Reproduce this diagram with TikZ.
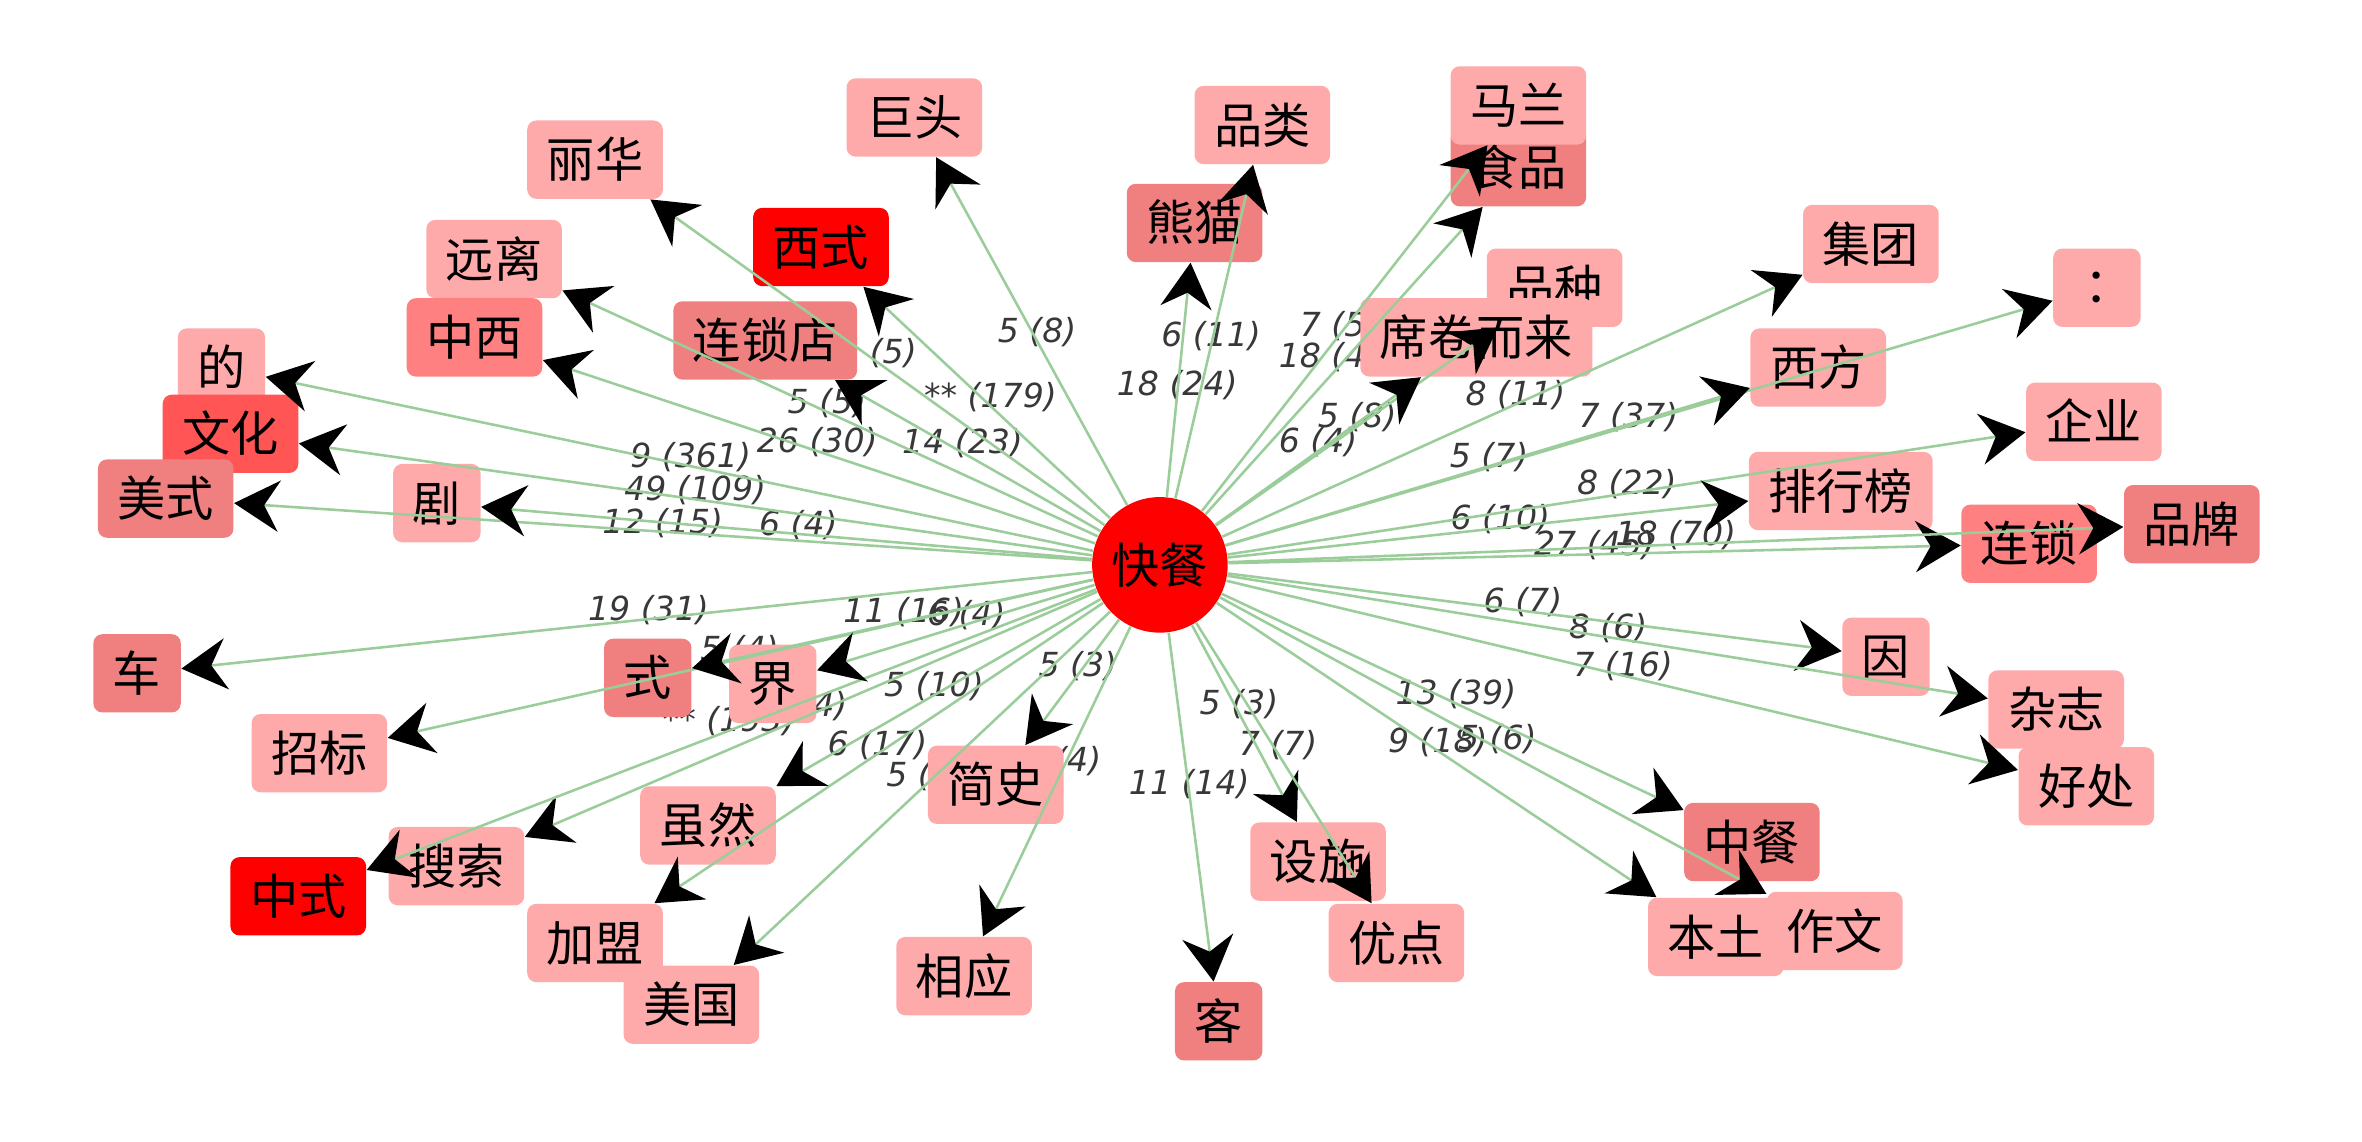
\documentclass[tikz,border=0pt]{standalone}
\usepackage{fontspec}
\setmainfont{DejaVu Sans}
\newfontfamily\cjk{Noto Sans CJK SC}
\newfontfamily\cjktc{Noto Sans CJK TC}
\usetikzlibrary{arrows.meta}
\pgfdeclarelayer{back}
\pgfsetlayers{back,main}
\definecolor{lightBox}{RGB}{255,170,170}
\definecolor{midBox}{RGB}{240,128,128}
\definecolor{warmBox}{RGB}{255,128,128}
\definecolor{hotBox}{RGB}{255,85,85}
\definecolor{topBox}{RGB}{255,0,0}
\definecolor{edgeColor}{RGB}{155,205,155}
\definecolor{labelColor}{gray}{0.22}
\tikzset{
  word/.style={rounded corners=3pt,inner xsep=6.5pt,inner ysep=0pt,minimum height=26pt,
    text height=14pt,text depth=2pt,font=\cjk\fontsize{16}{16}\selectfont,fill=lightBox},
  hubnode/.style={circle,fill=topBox,minimum size=45pt,inner sep=0pt,
    font=\cjk\fontsize{16}{16}\selectfont},
  edge/.style={draw=edgeColor,line width=0.85pt,
    -{Stealth[length=15pt,width=17pt,inset=5pt,black]}},
  elabel/.style={midway,yshift=3pt,inner sep=0pt,text=labelColor,
    font=\fontsize{11}{11}\selectfont\itshape}
}
\begin{document}
\begin{tikzpicture}[x=1pt,y=1pt]
\path[use as bounding box] (0,0) rectangle (784,379);

% centre
\node[hubnode] (hub) at (385.0,191.5) {快餐};

% upper left
\node[word] (lihua) at (197.5,326.0) {丽华};
\node[word] (jutou) at (303.5,340.0) {巨头};
\node[word,fill=topBox] (xishi) at (272.5,297.0) {西式};
\node[word] (yuanli) at (164.0,293.0) {远离};
\node[word,fill=warmBox] (zhongxi) at (157.5,267.0) {中西};
\node[word,fill=midBox] (liansuodian) at (254.0,266.0) {连锁店};
\node[word] (de) at (73.5,257.0) {的};
\node[word,fill=hotBox] (wenhua) at (76.5,235.0) {文化};
\node[word,fill=midBox] (meishi) at (55.0,213.5) {美式};
\node[word] (ju) at (145.0,212.0) {剧};

% upper right
\node[word] (pinlei) at (419.0,337.5) {品类};
\node[word,fill=midBox] (xiongmao) at (396.5,305.0) {熊猫};
\node[word,fill=midBox] (shipin) at (504.0,323.5) {食品};
\node[word] (malan) at (504.0,344.0) {马兰};
\node[word] (pinzhong) at (516.0,283.5) {品种};
\node[word] (xijuan) at (490.0,267.0) {席卷而来};
\node[word] (jituan) at (621.0,298.0) {集团};
\node[word,font=\cjktc\fontsize{16}{16}\selectfont] (colon) at (696.0,283.5) {：};
\node[word] (xifang) at (603.5,257.0) {西方};
\node[word] (qiye) at (695.0,239.0) {企业};
\node[word] (paihang) at (611.0,216.0) {排行榜};
\node[word,fill=warmBox] (liansuo) at (673.5,198.5) {连锁};
\node[word,fill=midBox] (pinpai) at (727.5,205.0) {品牌};

% lower right
\node[word] (yin) at (626.0,161.0) {因};
\node[word] (zazhi) at (682.5,143.5) {杂志};
\node[word] (haochu) at (692.5,118.0) {好处};
\node[word,fill=midBox] (zhongcan) at (581.5,99.5) {中餐};
\node[word] (zuowen) at (609.0,70.0) {作文};
\node[word] (bentu) at (569.5,68.0) {本土};
\node[word] (sheshi) at (437.5,93.0) {设施};
\node[word] (youdian) at (463.5,66.0) {优点};
\node[word,fill=midBox] (ke) at (404.5,40.0) {客};

% lower left
\node[word] (xiangying) at (320.0,55.0) {相应};
\node[word] (jianshi) at (330.5,118.5) {简史};
\node[word] (jiameng) at (197.5,66.0) {加盟};
\node[word] (meiguo) at (229.5,45.5) {美国};
\node[word] (suiran) at (235.0,105.0) {虽然};
\node[word] (sousuo) at (151.5,91.5) {搜索};
\node[word,fill=topBox] (zhongshi) at (99.0,81.5) {中式};
\node[word] (zhaobiao) at (106.0,129.0) {招标};
\node[word,fill=midBox] (che) at (45.5,155.5) {车};
\node[word,fill=midBox] (shi) at (215.0,154.0) {式};
\node[word] (jie) at (256.5,152.0) {界};

% edges, counts under the boxes
\foreach \n/\t in {lihua/5 (5),jutou/5 (8),xishi/** (179),yuanli/5 (5),zhongxi/26 (30),
    liansuodian/14 (23),de/9 (361),wenhua/49 (109),meishi/12 (15),ju/6 (4),
    pinlei/6 (11),xiongmao/18 (24),shipin/18 (48),malan/7 (5),pinzhong/5 (8),
    xijuan/6 (4),jituan/8 (11),colon/7 (37),xifang/5 (7),qiye/8 (22),
    paihang/6 (10),liansuo/27 (45),pinpai/18 (70),yin/6 (7),zazhi/8 (6),
    haochu/7 (16),zhongcan/13 (39),zuowen/5 (6),bentu/9 (18),sheshi/5 (3),
    youdian/7 (7),ke/11 (14),xiangying/5 (4),jianshi/5 (3),jiameng/6 (17),
    meiguo/5 (2),suiran/5 (10),sousuo/5 (4),zhongshi/** (193),zhaobiao/5 (4),
    che/19 (31),shi/11 (16),jie/6 (4)}{
  \begin{pgfonlayer}{back}
  \path (hub.center) -- (\n.center) node[elabel] {\t};
  \end{pgfonlayer}
  \draw[edge] (hub) -- (\n);
}
\end{tikzpicture}
\end{document}
